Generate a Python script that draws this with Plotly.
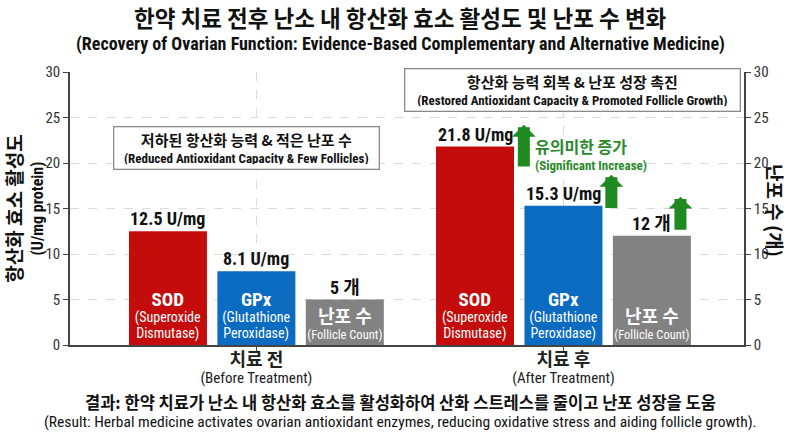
import plotly.graph_objects as go

# ---------------- data ----------------
categories_kr = ["치료 전", "치료 후"]
categories_en = ["(Before Treatment)", "(After Treatment)"]
sod_values = [12.5, 21.8]
gpx_values = [8.1, 15.3]
follicle_values = [5, 12]
y_ticks = [0, 5, 10, 15, 20, 25, 30]

sod_label = "<span style='font-size:19px'><b>SOD</b></span><br><span style='font-size:14px'>(Superoxide</span><br><span style='font-size:14px'>Dismutase)</span>"
gpx_label = "<span style='font-size:19px'><b>GPx</b></span><br><span style='font-size:14px'>(Glutathione</span><br><span style='font-size:14px'>Peroxidase)</span>"
fol_label = "<span style='font-size:18px'><b>난포 수</b></span><br><span style='font-size:12.5px'>(Follicle Count)</span>"

# ---------------- styles ----------------
NARROW = "Liberation Sans Narrow, Arial Narrow, Roboto Condensed, Noto Sans CJK KR, sans-serif"
KR = "Noto Sans CJK KR, sans-serif"
RED = "#C40C0C"
BLUE = "#0B6BC1"
GRAY = "#828282"
GREEN = "#1F8A1F"
GTEXT = "#2A8A2A"
AX = "#444444"

x_pos = list(range(len(categories_kr)))
BAR_W = 0.254
CENTERS = [-0.288, 0.0, 0.288]

fig = go.Figure()

series = [
    (sod_values, RED, sod_label, "y", "U/mg"),
    (gpx_values, BLUE, gpx_label, "y", "U/mg"),
    (follicle_values, GRAY, fol_label, "y2", "개"),
]

for (vals, col, lab, yax, unit), c in zip(series, CENTERS):
    fig.add_trace(go.Bar(
        x=x_pos, y=vals, width=BAR_W, offset=c - BAR_W / 2,
        marker=dict(color=col, line=dict(width=0)),
        text=[lab] * len(vals), textposition="inside", insidetextanchor="start",
        constraintext="none", textangle=0,
        textfont=dict(color="white", size=12.5, family=NARROW),
        yaxis=yax, hoverinfo="skip", showlegend=False,
    ))
    for xi, v in zip(x_pos, vals):
        fig.add_annotation(
            x=xi + c, y=v, xref="x", yref="y", xanchor="center", yanchor="bottom",
            text=f"<b>{v} {unit}</b>", showarrow=False,
            font=dict(size=18, color="#111111", family=NARROW),
        )

# green arrows (after treatment)
arrows = [(0.871, 19.45, 24.2), (1.156, 14.9, 18.7), (1.381, 12.5, 16.3)]
for ax_x, y0, y1 in arrows:
    fig.add_annotation(
        x=ax_x, y=y1, ax=ax_x, ay=y0, xref="x", yref="y", axref="x", ayref="y",
        text="", showarrow=True, arrowhead=1, arrowwidth=12, arrowsize=0.33,
        arrowcolor=GREEN,
    )

fig.add_annotation(
    x=0.902, y=21.0, xref="x", yref="y", xanchor="left", yanchor="middle", align="left",
    text="<span style='font-size:16px;font-family:Noto Sans CJK KR'><b>유의미한 증가</b></span><br><b>(Significant Increase)</b>",
    showarrow=False, font=dict(size=13, color=GTEXT, family=NARROW),
)

# boxes
fig.add_annotation(
    x=-0.031, y=21.7, xref="x", yref="y", xanchor="center", yanchor="middle",
    text="<span style='font-size:15px;font-family:Noto Sans CJK KR'><b>저하된 항산화 능력 &amp; 적은 난포 수</b></span><br><b>(Reduced Antioxidant Capacity &amp; Few Follicles)</b>",
    showarrow=False, font=dict(size=13, color="#111111", family=NARROW),
    bordercolor="#8a8a8a", borderwidth=1.3, borderpad=4, bgcolor="white",
    width=256, height=33,
)
fig.add_annotation(
    x=1.028, y=27.97, xref="x", yref="y", xanchor="center", yanchor="middle",
    text="<span style='font-size:15px;font-family:Noto Sans CJK KR'><b>항산화 능력 회복 &amp; 난포 성장 촉진</b></span><br><b>(Restored Antioxidant Capacity &amp; Promoted Follicle Growth)</b>",
    showarrow=False, font=dict(size=13, color="#111111", family=NARROW),
    bordercolor="#8a8a8a", borderwidth=1.3, borderpad=4, bgcolor="white",
    width=326, height=33,
)

# titles
def px_x(p):
    return (p - 70) / 674.0

def px_y(p):
    return (345 - p) / 273.0

def paper_text(xp, yp, text, size, family, angle=0):
    fig.add_annotation(
        x=px_x(xp), y=px_y(yp), xref="paper", yref="paper",
        xanchor="center", yanchor="middle", textangle=angle,
        text=text, showarrow=False,
        font=dict(size=size, color="#111111", family=family),
    )

paper_text(400, 17, "<b>한약 치료 전후 난소 내 항산화 효소 활성도 및 난포 수 변화</b>", 22.5, KR)
paper_text(400, 44, "<b>(Recovery of Ovarian Function: Evidence-Based Complementary and Alternative Medicine)</b>", 18, NARROW)
paper_text(400, 402, "<b>결과: 한약 치료가 난소 내 항산화 효소를 활성화하여 산화 스트레스를 줄이고 난포 성장을 도움</b>", 16.5, KR)
paper_text(400, 422, "(Result: Herbal medicine activates ovarian antioxidant enzymes, reducing oxidative stress and aiding follicle growth).", 15.5, NARROW)
paper_text(776, 210, "<b>난포 수 (개)</b>", 19, KR, angle=90)

ticktext = [
    f"<span style='font-size:18px;font-family:Noto Sans CJK KR'><b>{k}</b></span><br><span style='font-size:15px'>{e}</span>"
    for k, e in zip(categories_kr, categories_en)
]

fig.update_layout(
    width=800, height=436,
    margin=dict(l=70, r=56, t=72, b=91),
    paper_bgcolor="white", plot_bgcolor="white",
    barmode="overlay",
    xaxis=dict(
        range=[-0.607, 1.588], tickvals=x_pos, ticktext=ticktext,
        tickfont=dict(size=13, color="#222222", family=NARROW),
        showgrid=True, gridcolor="#dcdcdc", griddash="dash", gridwidth=1,
        showline=True, linecolor=AX, linewidth=1.5,
        ticks="outside", ticklen=4, tickcolor=AX, zeroline=False,
    ),
    yaxis=dict(
        range=[0, 30], tickvals=y_ticks,
        tickfont=dict(size=15, color="#333333", family=NARROW),
        showgrid=True, gridcolor="#dcdcdc", griddash="dash", gridwidth=1,
        showline=True, linecolor=AX, linewidth=1.5,
        ticks="outside", ticklen=5, tickcolor=AX, zeroline=False,
        title=dict(
            text="<span style='font-size:19px;font-family:Noto Sans CJK KR'><b>항산화 효소 활성도</b></span><br><b>(U/mg protein)</b>",
            font=dict(size=16, color="#111111", family=NARROW), standoff=2,
        ),
    ),
    yaxis2=dict(
        range=[0, 30], tickvals=y_ticks, overlaying="y", side="right",
        tickfont=dict(size=15, color="#333333", family=NARROW),
        showgrid=False, showline=True, linecolor=AX, linewidth=1.5,
        ticks="outside", ticklen=5, tickcolor=AX, zeroline=False,
    ),
)

fig.write_html(
    "out.html",
    config={"displayModeBar": False},
    post_script="document.body.style.margin='0';document.body.style.overflow='hidden';",
)
